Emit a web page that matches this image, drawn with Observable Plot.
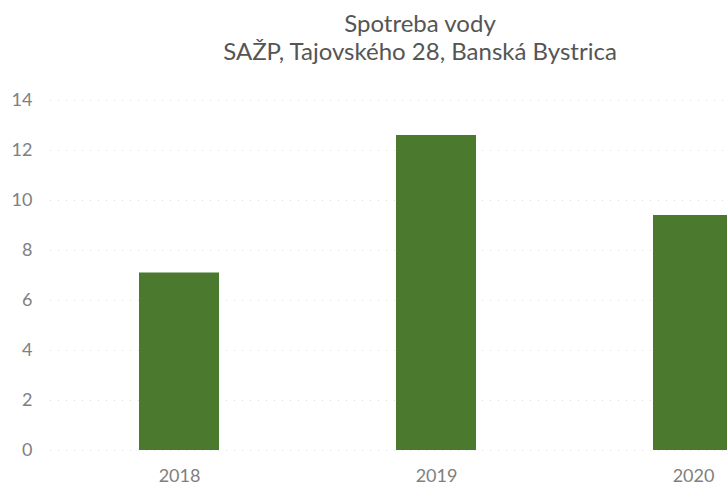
<!DOCTYPE html>
<html>
<head>
<meta charset="utf-8">
<script src="https://cdn.jsdelivr.net/npm/d3@7"></script>
<script src="https://cdn.jsdelivr.net/npm/@observablehq/plot@0.6"></script>
<style>
  html, body { margin: 0; padding: 0; background: #fff; overflow: hidden; width: 727px; height: 487px; }
  #title { height: 72px; box-sizing: border-box; padding-top: 9px; font-family: Lato, "Open Sans", sans-serif; font-size: 24px; line-height: 28px; color: #555; text-align: center; width: 840px; }
  #chart svg { display: block; }
</style>
</head>
<body>
<div id="title">Spotreba vody<br>SAŽP, Tajovského 28, Banská Bystrica</div>
<div id="chart"></div>
<script>
const years = ["2018", "2019", "2020"];
const values = [7.1, 12.6, 9.4];
const yTicks = [0, 2, 4, 6, 8, 10, 12, 14];

const data = years.map((year, i) => ({year, value: values[i]}));

const chart = Plot.plot({
  width: 727,
  height: 415,
  marginTop: 28,
  marginBottom: 37,
  marginLeft: 50,
  marginRight: 0,
  style: {fontFamily: "Lato, 'Open Sans', sans-serif", fontSize: "18px", color: "#808080", background: "#fff", overflow: "hidden"},
  x: {domain: years, range: [50.4, 821.4], paddingInner: 0.689, paddingOuter: 0.3445, label: null},
  y: {domain: [0, 14], label: null},
  marks: [
    Plot.gridY(yTicks, {stroke: "#bbb", strokeOpacity: 0.45, strokeDasharray: "1,7"}),
    Plot.barY(data, {x: "year", y: "value", fill: "#4b7a2f"}),
    Plot.axisY(yTicks, {tickSize: 0, tickPadding: 18, fill: "#808080", fontSize: 18, tickFormat: d => d}),
    Plot.axisX({tickSize: 0, tickPadding: 19, fill: "#808080", fontSize: 18})
  ]
});
document.getElementById("chart").appendChild(chart);
</script>
</body>
</html>
